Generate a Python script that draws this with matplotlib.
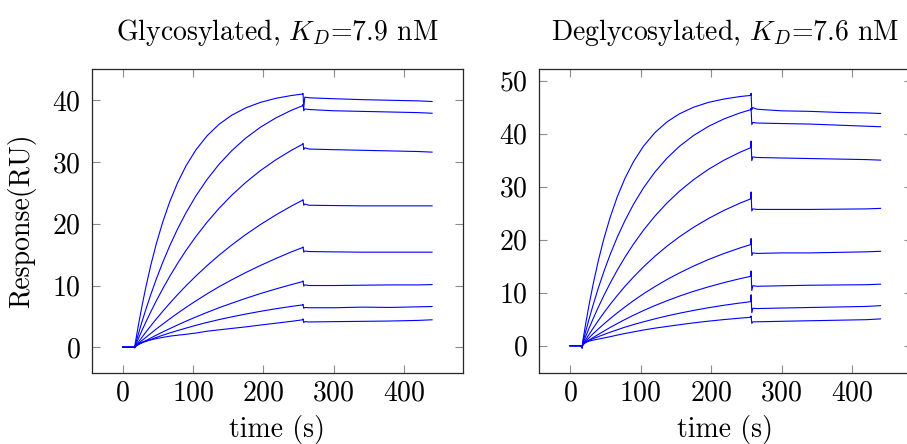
import matplotlib
matplotlib.use("Agg")
import matplotlib.pyplot as plt

# ---------- data ----------

# common time grid (s): baseline, association, dissociation
t_s = [0, 15, 17, 18, 22, 27, 33, 40, 48, 57, 67, 78, 90, 104, 120, 137, 155,
       175, 196, 218, 240, 256, 256.5, 257.5, 259, 265, 300, 340, 380, 420, 440]

# Glycosylated (left panel), lowest -> highest concentration
gly_r1 = [0, 0, -0.05, 0.2, 0.55, 0.8, 1.0, 1.2, 1.4, 1.6, 1.8, 1.95, 2.1, 2.3, 2.6, 2.82,
          3.05, 3.3, 3.6, 3.9, 4.2, 4.45, 4.6, 4.0, 4.15, 4.1, 4.15, 4.2, 4.25, 4.35, 4.45]
gly_r2 = [0, 0, -0.05, 0.15, 0.45, 0.7, 0.95, 1.25, 1.6, 1.95, 2.32, 2.7, 3.1, 3.55, 4.02, 4.48,
          4.92, 5.38, 5.82, 6.24, 6.62, 6.86, 6.95, 6.3, 6.45, 6.4, 6.4, 6.5, 6.45, 6.55, 6.6]
gly_r3 = [0, 0, -0.05, 0.1, 0.4, 0.72, 1.08, 1.5, 1.97, 2.48, 3.02, 3.6, 4.22, 4.9, 5.64, 6.4,
          7.13, 7.92, 8.7, 9.45, 10.15, 10.64, 10.75, 9.9, 10.1, 10.0, 10.0, 10.05, 10.1, 10.1, 10.15]
gly_r4 = [0, 0, -0.05, 0.15, 0.55, 1.05, 1.6, 2.25, 2.97, 3.75, 4.6, 5.5, 6.45, 7.5, 8.65, 9.8,
          10.92, 12.1, 13.25, 14.38, 15.45, 16.15, 16.25, 15.4, 15.6, 15.5, 15.45, 15.4, 15.4, 15.4, 15.4]
gly_r5 = [0, 0, -0.05, 0.16, 0.78, 1.55, 2.45, 3.47, 4.60, 5.82, 7.13, 8.51, 9.94, 11.52, 13.22, 14.90,
          16.55, 18.25, 19.88, 21.44, 22.87, 23.82, 23.9, 23.0, 23.2, 23.0, 22.95, 22.9, 22.9, 22.9, 22.9]
gly_r6 = [0, 0, -0.05, 0.27, 1.32, 2.60, 4.08, 5.74, 7.55, 9.47, 11.49, 13.56, 15.66, 17.91, 20.25, 22.49,
          24.61, 26.69, 28.62, 30.37, 31.90, 32.88, 33.0, 32.0, 32.3, 32.1, 32.0, 31.9, 31.8, 31.7, 31.6]
gly_r7 = [0, 0, -0.05, 0.41, 2.01, 3.94, 6.13, 8.53, 11.09, 13.74, 16.44, 19.13, 21.76, 24.48, 27.17, 29.62,
          31.82, 33.87, 35.64, 37.15, 38.38, 39.12, 39.3, 38.3, 38.6, 38.5, 38.3, 38.2, 38.1, 38.0, 37.9]
gly_r8 = [0, 0, -0.05, 0.69, 3.33, 6.39, 9.75, 13.27, 16.82, 20.28, 23.58, 26.61, 29.36, 31.94, 34.24, 36.10,
          37.57, 38.77, 39.66, 40.32, 40.77, 41.01, 41.1, 38.7, 40.5, 40.4, 40.25, 40.1, 40.0, 39.9, 39.8]

# Deglycosylated (right panel)
deg_r1 = [0, 0, -0.4, 0.2, 0.6, 0.85, 1.05, 1.25, 1.45, 1.7, 2.0, 2.3, 2.6, 2.95, 3.3, 3.62,
          3.95, 4.3, 4.62, 4.92, 5.18, 5.35, 5.6, 4.2, 4.5, 4.5, 4.6, 4.7, 4.8, 4.9, 5.05]
deg_r2 = [0, 0, -0.4, 0.25, 0.7, 1.0, 1.35, 1.7, 2.1, 2.55, 3.0, 3.5, 3.98, 4.5, 5.05, 5.6,
          6.12, 6.65, 7.15, 7.62, 8.03, 8.3, 9.6, 6.2, 7.05, 7.0, 7.1, 7.2, 7.3, 7.4, 7.55]
deg_r3 = [0, 0, -0.4, 0.15, 0.6, 1.05, 1.55, 2.12, 2.75, 3.45, 4.18, 4.95, 5.75, 6.62, 7.55, 8.46,
          9.35, 10.25, 11.09, 11.89, 12.61, 13.08, 14.1, 10.4, 11.3, 11.2, 11.3, 11.4, 11.45, 11.5, 11.6]
deg_r4 = [0, 0, -0.4, 0.2, 0.8, 1.5, 2.3, 3.15, 4.1, 5.12, 6.2, 7.33, 8.5, 9.78, 11.12, 12.45,
          13.72, 15.02, 16.24, 17.38, 18.40, 19.07, 20.2, 17.0, 17.5, 17.4, 17.5, 17.5, 17.6, 17.7, 17.8]
deg_r5 = [0, 0, -0.4, 0.22, 1.08, 2.14, 3.36, 4.73, 6.22, 7.82, 9.49, 11.22, 12.97, 14.87, 16.84, 18.74,
          20.54, 22.33, 23.98, 25.51, 26.84, 27.70, 29.0, 25.4, 25.8, 25.7, 25.7, 25.7, 25.75, 25.8, 25.9]
deg_r6 = [0, 0, -0.4, 0.34, 1.69, 3.32, 5.19, 7.26, 9.49, 11.85, 14.28, 16.74, 19.19, 21.78, 24.41, 26.87,
          29.14, 31.31, 33.26, 34.98, 36.44, 37.35, 38.6, 34.9, 35.6, 35.5, 35.4, 35.3, 35.2, 35.1, 35.0]
deg_r7 = [0, 0, -0.4, 0.53, 2.60, 5.07, 7.84, 10.86, 14.02, 17.26, 20.50, 23.66, 26.70, 29.76, 32.72, 35.33,
          37.61, 39.65, 41.36, 42.77, 43.87, 44.51, 44.8, 41.7, 42.1, 42.0, 41.9, 41.8, 41.6, 41.4, 41.3]
deg_r8 = [0, 0, -0.4, 0.84, 4.06, 7.77, 11.81, 16.02, 20.23, 24.30, 28.13, 31.63, 34.74, 37.63, 40.16, 42.18,
          43.74, 44.98, 45.89, 46.53, 46.98, 47.21, 47.6, 44.5, 44.9, 44.6, 44.3, 44.2, 44.0, 43.9, 43.8]

titles = [r"Glycosylated, $K_D$=7.9 nM", r"Deglycosylated, $K_D$=7.6 nM"]
x_ticks = [0, 100, 200, 300, 400]
y_ticks_gly = [0, 10, 20, 30, 40]
y_ticks_deg = [0, 10, 20, 30, 40, 50]

FS = 20

# ---------- style (pgfplots look) ----------
plt.rcParams.update({
    "font.family": "serif",
    "font.serif": ["cmr10", "DejaVu Serif"],
    "mathtext.fontset": "cm",
    "axes.formatter.use_mathtext": True,
    "font.size": FS,
})


def style_axis(ax, yticks):
    ax.set_xticks(x_ticks)
    ax.set_yticks(yticks)
    ax.tick_params(direction="in", length=6, width=0.8, color="0.55",
                   top=True, right=True, labelsize=FS)
    ax.tick_params(axis="x", pad=5)
    ax.tick_params(axis="y", pad=8)
    for sp in ax.spines.values():
        sp.set_linewidth(0.9)
        sp.set_color("0.15")
    ax.set_xlabel("time (s)", fontsize=FS, labelpad=6.5)


fig = plt.figure(figsize=(9.07, 4.44), dpi=100)
ax1 = fig.add_axes([0.1011, 0.16, 0.4094, 0.6847])
ax2 = fig.add_axes([0.5943, 0.16, 0.4108, 0.6847])

for ys in [gly_r1, gly_r2, gly_r3, gly_r4, gly_r5, gly_r6, gly_r7, gly_r8]:
    assert len(ys) == len(t_s)
    ax1.plot(t_s, ys, color="blue", lw=0.8)
for ys in [deg_r1, deg_r2, deg_r3, deg_r4, deg_r5, deg_r6, deg_r7, deg_r8]:
    assert len(ys) == len(t_s)
    ax2.plot(t_s, ys, color="blue", lw=0.8)

ax1.set_xlim(-44, 484)
ax1.set_ylim(-4.16, 45.07)
ax2.set_xlim(-44, 484)
ax2.set_ylim(-5.15, 52.2)

style_axis(ax1, y_ticks_gly)
style_axis(ax2, y_ticks_deg)
ax1.set_ylabel("Response(RU)", fontsize=FS, labelpad=11)

ax1.set_title(titles[0], fontsize=FS, pad=21)
ax2.set_title(titles[1], fontsize=FS, pad=21)

fig.savefig("out.png", dpi=100, facecolor="white")
